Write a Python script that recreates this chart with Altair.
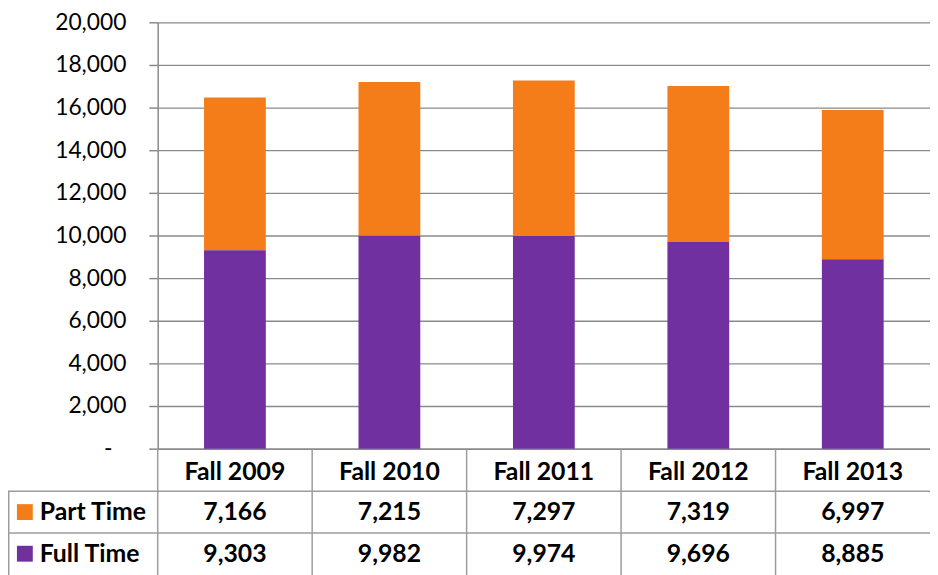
import altair as alt
import pandas as pd

# ---- data ----
categories = ["Fall 2009", "Fall 2010", "Fall 2011", "Fall 2012", "Fall 2013"]
series = ["Part Time", "Full Time"]
part_time = [7166, 7215, 7297, 7319, 6997]
full_time = [9303, 9982, 9974, 9696, 8885]
series_colors = ["#F47D1A", "#7030A0"]
y_ticks = [0, 2000, 4000, 6000, 8000, 10000, 12000, 14000, 16000, 18000, 20000]

# ---- layout / style ----
W, H = 779, 430
FONT = "Lato"
GRID = "#8a8a8a"
TABLE = "#9c9c9c"
ROW_Y = {"Part Time": 494, "Full Time": 536}
HEADER_BOTTOM = 473
ROW_SPLIT = 515
TABLE_BOTTOM = H + 140
LEFT_EDGE = -151

rows = []
for c, p, f in zip(categories, part_time, full_time):
    rows.append({"category": c, "series": "Part Time", "value": p})
    rows.append({"category": c, "series": "Full Time", "value": f})
df = pd.DataFrame(rows)

color = alt.Color("series:N", scale=alt.Scale(domain=series, range=series_colors), legend=None)

x_enc = alt.X(
    "category:N",
    sort=categories,
    scale=alt.Scale(domain=categories, paddingInner=0, paddingOuter=0),
    axis=alt.Axis(
        title=None, labelAngle=0, labelFont=FONT, labelFontSize=25, labelFontWeight="bold",
        labelColor="black", labelPadding=11, ticks=False, tickSize=0,
        domainColor=GRID, domainWidth=1.5, grid=False,
    ),
)

y_enc = alt.Y(
    "value:Q",
    stack="zero",
    scale=alt.Scale(domain=[0, 20000], nice=False),
    axis=alt.Axis(
        title=None, values=y_ticks,
        labelExpr="datum.value == 0 ? '-' : format(datum.value, ',')",
        labelFont=FONT, labelFontSize=23, labelColor="black",
        labelPadding={"condition": {"test": "datum.value == 0", "value": 37}, "value": 23},
        tickSize=9, tickColor=GRID, tickWidth=1.5,
        domainColor=GRID, domainWidth=1.5,
        grid=True, gridColor=GRID, gridWidth=1.3,
    ),
)

bars = (
    alt.Chart(df)
    .transform_calculate(stack_order="datum.series == 'Full Time' ? 0 : 1")
    .mark_bar(width=alt.RelativeBandSize(0.4))
    .encode(x=x_enc, y=y_enc, color=color, order=alt.Order("stack_order:Q"))
)

layers = [bars]

# table cell values
for s in series:
    layers.append(
        alt.Chart(df)
        .transform_filter(alt.datum.series == s)
        .mark_text(font=FONT, fontSize=25, fontWeight="bold", color="black", baseline="middle")
        .encode(x=alt.X("category:N", sort=categories), y=alt.value(ROW_Y[s]),
                text=alt.Text("value:Q", format=","))
    )

series_df = pd.DataFrame({"series": series})
for s in series:
    sub = alt.Chart(series_df).transform_filter(alt.datum.series == s)
    layers.append(
        sub.mark_square(size=256, opacity=1, filled=True)
        .encode(x=alt.value(-134), y=alt.value(ROW_Y[s]), color=color)
    )
    layers.append(
        sub.mark_text(font=FONT, fontSize=25, fontWeight="bold", color="black",
                      align="left", baseline="middle")
        .encode(x=alt.value(-119), y=alt.value(ROW_Y[s]), text="series:N")
    )

# table grid lines
cat_df = pd.DataFrame({"category": categories})
layers.append(
    alt.Chart(cat_df).mark_rule(color=TABLE, strokeWidth=1.5)
    .encode(x=alt.X("category:N", sort=categories, bandPosition=0),
            y=alt.value(H), y2=alt.value(TABLE_BOTTOM))
)
layers.append(
    alt.Chart(cat_df.head(1)).mark_rule(color=TABLE, strokeWidth=1.5)
    .encode(x=alt.value(LEFT_EDGE + 0.75), y=alt.value(HEADER_BOTTOM), y2=alt.value(TABLE_BOTTOM))
)
for yy in (HEADER_BOTTOM, ROW_SPLIT):
    layers.append(
        alt.Chart(cat_df.head(1)).mark_rule(color=TABLE, strokeWidth=1.5)
        .encode(x=alt.value(LEFT_EDGE), x2=alt.value(W), y=alt.value(yy))
    )

chart = (
    alt.layer(*layers)
    .properties(
        width=W, height=H,
        autosize=alt.AutoSizeParams(type="none"),
        padding={"left": 151, "top": 12, "right": 0, "bottom": 125},
        background="white",
    )
    .configure_view(stroke=None)
)

chart.save("out.html", embed_options={"renderer": "svg", "actions": False})
